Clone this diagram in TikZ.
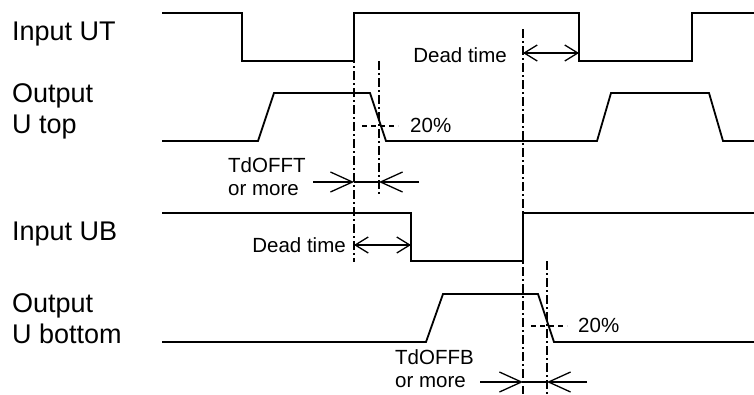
\documentclass[tikz,border=0pt]{standalone}
\usepackage{fontspec}
\setmainfont{Liberation Sans}
\usetikzlibrary{arrows.meta}

\begin{document}
\begin{tikzpicture}[x=1pt,y=-1pt,>={Straight Barb[length=13pt,width=16pt]},
    every node/.style={inner sep=0pt,font=\fontsize{20.5}{23}\selectfont},
    sig/.style={line width=1.8pt},
    cut/.style={line width=1.7pt,dash pattern=on 9pt off 3pt on 2pt off 3pt},
    lvl/.style={line width=1.6pt,dash pattern=on 5pt off 4pt},
    big/.style={font=\fontsize{27}{31}\selectfont,align=left,anchor=base west}]
                \useasboundingbox (0,0) rectangle (754,394);

                % Signal names (base = last line)
                \node[big] (nut) at (12,40) {Input UT};
                \node[big] (nutop) at (12,133) {Output\\U top};
                \node[big] (nub) at (12,240) {Input UB};
                \node[big] (nubot) at (12,343) {Output\\U bottom};

                % Waveforms
                \draw[sig] (162,13) -- (242,13) -- (242,61) -- (354,61) -- (354,13)
                    -- (579,13) -- (579,61) -- (692,61) -- (692,13) -- (754,13);
                \draw[sig] (162,141) -- (258,141) -- (274,93) -- (370,93) -- (386,141)
                    -- (597,141) -- (611,93) -- (709,93) -- (723,141) -- (754,141);
                \draw[sig] (162,213) -- (411,213) -- (411,261) -- (523,261) -- (523,213)
                    -- (754,213);
                \draw[sig] (162,342) -- (426,342) -- (443,294) -- (538,294) -- (554,342)
                    -- (754,342);

                % Reference instants
                \coordinate (t1) at (354,37);   \coordinate (t1b) at (354,262);
                \coordinate (t2) at (379,61);   \coordinate (t2b) at (379,195);
                \coordinate (t3) at (523,29);   \coordinate (t3b) at (523,394);
                \coordinate (t4) at (547,261);  \coordinate (t4b) at (547,394);
                \draw[cut] (t1) -- (t1b);
                \draw[cut] (t2) -- (t2b);
                \draw[cut] (t3) -- (t3b);
                \draw[cut] (t4) -- (t4b);

                % 20% levels
                \coordinate (p1) at (362,126);
                \coordinate (p2) at (531,326);
                \draw[lvl] (p1) -- ++(36,0);
                \draw[lvl] (p2) -- ++(36,0);
                \node[anchor=base west] (pct1) at (410,132) {20\%};
                \node[anchor=base west] (pct2) at (578,332) {20\%};

                % Dead times
                \coordinate (d1a) at (523,53);  \coordinate (d1b) at (579,53);
                \coordinate (d2a) at (354,245); \coordinate (d2b) at (411,245);
                \draw[<->,line width=1.3pt] (d1a) -- (d1b);
                \draw[<->,line width=1.3pt] (d2a) -- (d2b);
                \node[anchor=base east] (dt1) at (507,62) {Dead time};
                \node[anchor=base east] (dt2) at (346,252) {Dead time};

                % Turn-off delays
                \coordinate (f1a) at (313,182); \coordinate (f1b) at (419,182);
                \coordinate (f1l) at (354,182); \coordinate (f1r) at (379,182);
                \draw[->,>={Straight Barb[length=22pt,width=20pt]},line width=1.3pt] (f1a) -- (f1l);
                \draw[line width=1.3pt] (f1l) -- (f1r);
                \draw[->,>={Straight Barb[length=22pt,width=20pt]},line width=1.3pt] (f1b) -- (f1r);
                \node[anchor=base west,align=left] (toft) at (228,195) {TdOFFT\\or more};

                \coordinate (f2a) at (480,382); \coordinate (f2b) at (587,382);
                \coordinate (f2l) at (523,382); \coordinate (f2r) at (547,382);
                \draw[->,>={Straight Barb[length=22pt,width=20pt]},line width=1.3pt] (f2a) -- (f2l);
                \draw[line width=1.3pt] (f2l) -- (f2r);
                \draw[->,>={Straight Barb[length=22pt,width=20pt]},line width=1.3pt] (f2b) -- (f2r);
                \node[anchor=base west,align=left] (tofb) at (395,387) {TdOFFB\\or more};
            \end{tikzpicture}
\end{document}
